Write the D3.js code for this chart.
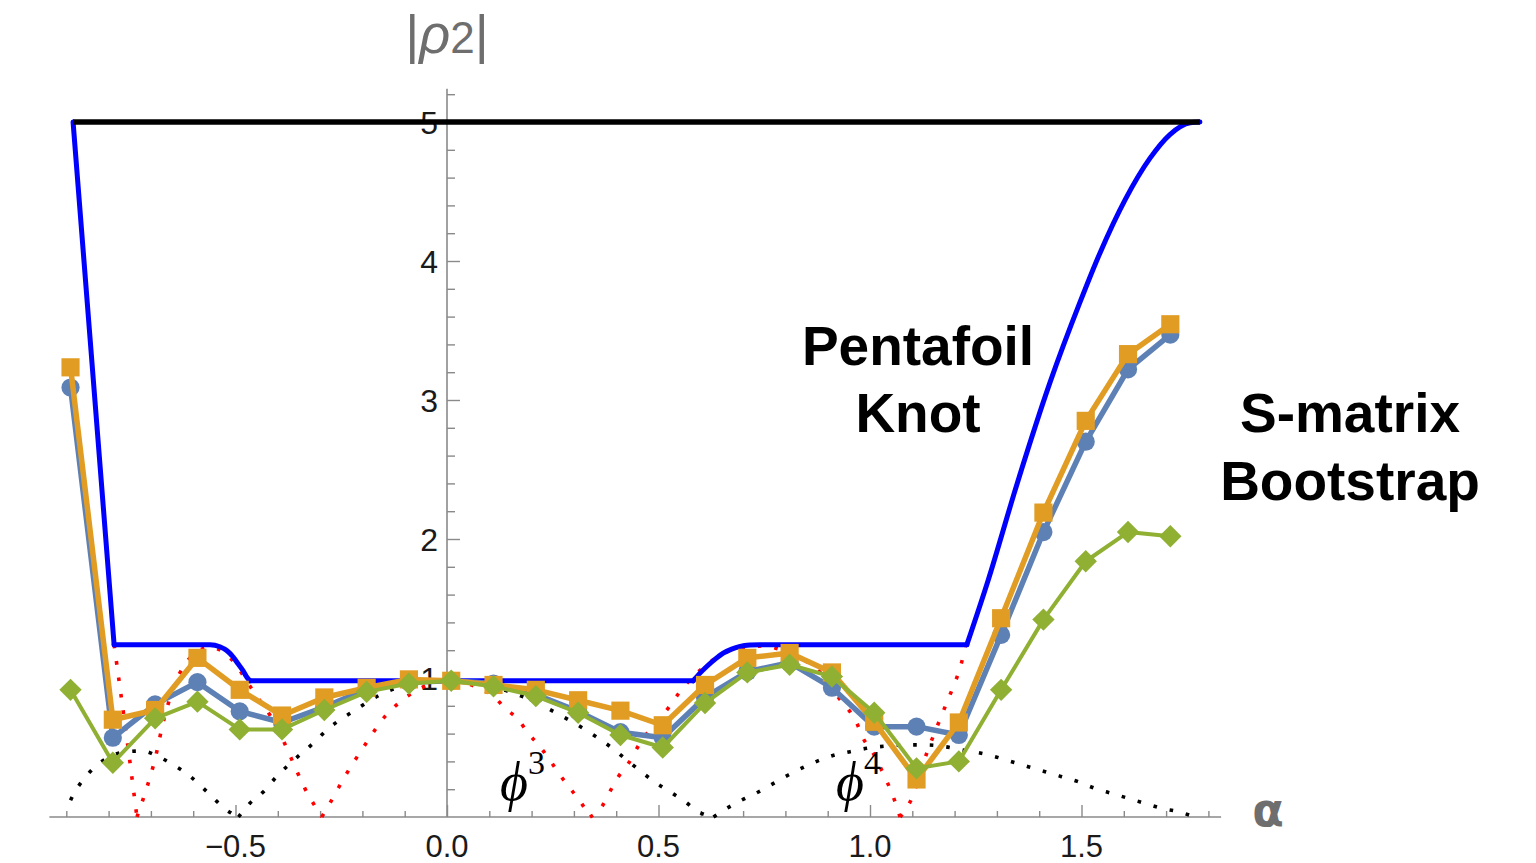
<!DOCTYPE html>
<html>
<head>
<meta charset="utf-8">
<script src="https://cdn.jsdelivr.net/npm/d3@7"></script>
<style>
  html, body { margin: 0; padding: 0; background: #ffffff; }
  svg { display: block; }
</style>
</head>
<body>
<svg id="chart" width="1536" height="863"></svg>
<script>
// α grid of the three bootstrap series
const alphaPoints = [-0.89, -0.79, -0.69, -0.59, -0.49, -0.39, -0.29, -0.19, -0.09, 0.01,
                     0.11, 0.21, 0.31, 0.41, 0.51, 0.61, 0.71, 0.81, 0.91, 1.01,
                     1.11, 1.21, 1.31, 1.41, 1.51, 1.61, 1.71];
const circleSeries  = [3.09, 0.57, 0.81, 0.97, 0.76, 0.68, 0.79, 0.92, 0.97, 0.98,
                       0.96, 0.88, 0.76, 0.61, 0.57, 0.86, 1.045, 1.11, 0.93, 0.65,
                       0.65, 0.59, 1.31, 2.05, 2.70, 3.22, 3.47];
const squareSeries  = [3.235, 0.70, 0.77, 1.145, 0.915, 0.73, 0.86, 0.93, 0.99, 0.98,
                       0.95, 0.915, 0.84, 0.765, 0.66, 0.95, 1.145, 1.18, 1.04, 0.685,
                       0.27, 0.68, 1.43, 2.19, 2.85, 3.33, 3.545];
const diamondSeries = [0.915, 0.39, 0.71, 0.83, 0.63, 0.63, 0.77, 0.90, 0.96, 0.98,
                       0.94, 0.87, 0.75, 0.59, 0.50, 0.82, 1.04, 1.095, 1.01, 0.75,
                       0.35, 0.40, 0.915, 1.42, 1.84, 2.05, 2.02];

// pentafoil knot bound (blue); sharp corners listed separately
const knotAlpha = [-0.884, -0.787, -0.560, -0.537, -0.520, -0.506, -0.494, -0.482, -0.473, -0.466,
                   0.582, 0.598, 0.614, 0.634, 0.653, 0.673, 0.693, 0.716, 0.740,
                   1.229, 1.279, 1.348, 1.426, 1.496, 1.544, 1.603, 1.662, 1.709, 1.757, 1.78];
const knotValue = [5.0, 1.24, 1.24, 1.225, 1.196, 1.153, 1.102, 1.052, 1.005, 0.98,
                   0.98, 1.035, 1.083, 1.136, 1.179, 1.208, 1.227, 1.237, 1.24,
                   1.24, 1.70, 2.40, 3.13, 3.70, 4.06, 4.44, 4.74, 4.91, 4.995, 5.0];
const knotCorners = [-0.787, -0.466, 0.582, 1.229];

// unitarity cap
const capAlpha = [-0.884, 1.78];
const capValue = [5, 5];

// dotted reference curves (zeros split the humps)
const blackDotAlpha = [-0.89, -0.884, -0.86, -0.832, -0.797, -0.757, -0.72, -0.682, -0.647, -0.61, -0.58, -0.552, -0.521, -0.493,
                       -0.466, -0.434, -0.403, -0.379, -0.348, -0.316, -0.284, -0.253, -0.222, -0.186, -0.158, -0.119, -0.087, -0.04, 0.0,
                       0.066, 0.149, 0.188, 0.259, 0.326, 0.393, 0.429, 0.464, 0.496, 0.527, 0.563, 0.594, 0.63,
                       0.661, 0.697, 0.736, 0.772, 0.807, 0.846, 0.882, 0.917, 0.953, 0.992, 1.039, 1.079, 1.134, 1.177, 1.217,
                       1.256, 1.296, 1.335, 1.374, 1.414, 1.453, 1.492, 1.532, 1.571, 1.611, 1.65, 1.69, 1.729, 1.768];
const blackDotValue = [0.12, 0.158, 0.267, 0.362, 0.434, 0.47, 0.475, 0.434, 0.375, 0.30, 0.218, 0.135, 0.05, 0,
                       0.099, 0.182, 0.29, 0.362, 0.447, 0.531, 0.627, 0.699, 0.759, 0.831, 0.879, 0.927, 0.951, 0.975, 0.98,
                       0.96, 0.90, 0.855, 0.747, 0.63, 0.49, 0.40, 0.314, 0.242, 0.182, 0.11, 0.038, 0,
                       0.062, 0.122, 0.18, 0.242, 0.302, 0.362, 0.41, 0.447, 0.47, 0.494, 0.511, 0.519, 0.519, 0.506, 0.482,
                       0.463, 0.434, 0.398, 0.362, 0.326, 0.29, 0.254, 0.206, 0.17, 0.134, 0.098, 0.062, 0.038, 0];

const redDotAlpha = [-0.787, -0.778, -0.769, -0.76, -0.751, -0.742, -0.733,
                     -0.714, -0.69, -0.671, -0.643, -0.619, -0.59, -0.56, -0.53, -0.50, -0.47, -0.45, -0.418, -0.387, -0.355, -0.336, -0.316, -0.296,
                     -0.277, -0.237, -0.194, -0.147, -0.115, -0.083, 0.0,
                     0.106, 0.137, 0.169, 0.192, 0.22, 0.243, 0.267, 0.291, 0.318, 0.338,
                     0.366, 0.385, 0.405, 0.429, 0.456, 0.492, 0.523, 0.551, 0.60, 0.65, 0.70, 0.75, 0.80, 0.866, 0.898, 0.921, 0.969, 0.984, 1.008, 1.031, 1.055, 1.071,
                     1.095, 1.134, 1.165, 1.181, 1.197, 1.209, 1.221, 1.226];
const redDotValue = [1.24, 1.04, 0.84, 0.64, 0.43, 0.215, 0,
                     0.17, 0.42, 0.68, 0.96, 1.10, 1.19, 1.22, 1.19, 1.10, 0.96, 0.87, 0.73, 0.55, 0.33, 0.206, 0.098, 0,
                     0.098, 0.314, 0.518, 0.722, 0.818, 0.89, 0.98,
                     0.879, 0.783, 0.699, 0.602, 0.506, 0.41, 0.302, 0.206, 0.098, 0,
                     0.074, 0.182, 0.29, 0.386, 0.53, 0.674, 0.783, 0.903, 1.06, 1.17, 1.22, 1.23, 1.19, 1.083, 0.987, 0.879, 0.674, 0.566, 0.458, 0.314, 0.146, 0,
                     0.11, 0.458, 0.699, 0.819, 0.939, 1.035, 1.167, 1.24];

// axis ticks
const xMajorTicks = [-0.5, 0.0, 0.5, 1.0, 1.5];
const xTickLabels = ["\u22120.5", "0.0", "0.5", "1.0", "1.5"];
const xMinorTicks = [-0.9, -0.8, -0.7, -0.6, -0.4, -0.3, -0.2, -0.1, 0.1, 0.2, 0.3, 0.4,
                     0.6, 0.7, 0.8, 0.9, 1.1, 1.2, 1.3, 1.4, 1.6, 1.7, 1.8];
const yMajorTicks = [1, 2, 3, 4, 5];
const yTickLabels = ["1", "2", "3", "4", "5"];
const yMinorTicks = [0.2, 0.4, 0.6, 0.8, 1.2, 1.4, 1.6, 1.8, 2.2, 2.4, 2.6, 2.8,
                     3.2, 3.4, 3.6, 3.8, 4.2, 4.4, 4.6, 4.8, 5.2];

const svg = d3.select("#chart");
const x = d3.scaleLinear().domain([0, 1.5]).range([447, 1081.5]);
const y = d3.scaleLinear().domain([0, 5]).range([817, 122]);

const axisColor = "#8a8a8a";
const sans = "'Liberation Sans', Arial, sans-serif";

// ---- axes ----
const gx = svg.append("g").attr("transform", `translate(0,${y(0)})`);
gx.append("line").attr("x1", x(-0.94)).attr("x2", x(1.83)).attr("y1", 0).attr("y2", 0)
  .attr("stroke", axisColor).attr("stroke-width", 1.6);
gx.append("g").call(d3.axisBottom(x).tickValues(xMajorTicks).tickSizeInner(-12).tickSizeOuter(0).tickFormat(""))
  .call(g => g.select(".domain").remove())
  .call(g => g.selectAll("line").attr("stroke", axisColor).attr("stroke-width", 1.4));
gx.append("g").call(d3.axisBottom(x).tickValues(xMinorTicks).tickSizeInner(-6).tickSizeOuter(0).tickFormat(""))
  .call(g => g.select(".domain").remove())
  .call(g => g.selectAll("line").attr("stroke", axisColor).attr("stroke-width", 1.4));

const gy = svg.append("g").attr("transform", `translate(${x(0)},0)`);
gy.append("line").attr("x1", 0).attr("x2", 0).attr("y1", y(5.24)).attr("y2", y(0))
  .attr("stroke", axisColor).attr("stroke-width", 1.6);
gy.append("g").call(d3.axisLeft(y).tickValues(yMajorTicks).tickSizeInner(-13).tickSizeOuter(0).tickFormat(""))
  .call(g => g.select(".domain").remove())
  .call(g => g.selectAll("line").attr("stroke", axisColor).attr("stroke-width", 1.4));
gy.append("g").call(d3.axisLeft(y).tickValues(yMinorTicks).tickSizeInner(-8).tickSizeOuter(0).tickFormat(""))
  .call(g => g.select(".domain").remove())
  .call(g => g.selectAll("line").attr("stroke", axisColor).attr("stroke-width", 1.4));

// tick labels
svg.append("g").selectAll("text").data(xMajorTicks).join("text")
  .attr("x", d => x(d)).attr("y", 857)
  .attr("text-anchor", "middle")
  .attr("font-family", sans)
  .attr("font-size", 31).attr("fill", "#1a1a1a")
  .text((d, i) => xTickLabels[i]);
svg.append("g").selectAll("text").data(yMajorTicks).join("text")
  .attr("x", x(0) - 9).attr("y", d => y(d)).attr("dy", "0.36em")
  .attr("text-anchor", "end")
  .attr("font-family", sans)
  .attr("font-size", 32).attr("fill", "#1a1a1a")
  .text((d, i) => yTickLabels[i]);

// ---- dotted reference curves, one path per hump ----
function humps(alphas, values) {
  const out = [];
  let cur = [];
  alphas.forEach((a, i) => {
    cur.push([a, values[i]]);
    if (values[i] === 0 && cur.length > 1) { out.push(cur); cur = [[a, 0]]; }
  });
  if (cur.length > 1) out.push(cur);
  return out;
}
const smooth = d3.line().x(d => x(d[0])).y(d => y(d[1])).curve(d3.curveMonotoneX);
const straight = d3.line().x(d => x(d[0])).y(d => y(d[1]));

svg.append("g").selectAll("path").data(humps(blackDotAlpha, blackDotValue)).join("path")
  .attr("d", smooth).attr("fill", "none").attr("stroke", "#000")
  .attr("stroke-width", 3.6).attr("stroke-dasharray", "3.6 13");
svg.append("g").selectAll("path").data(humps(redDotAlpha, redDotValue)).join("path")
  .attr("d", smooth).attr("fill", "none").attr("stroke", "#ff0000")
  .attr("stroke-width", 3.6).attr("stroke-dasharray", "3.6 13");

// ---- knot bound: smooth between sharp corners ----
const knotPts = knotAlpha.map((a, i) => [a, knotValue[i]]);
const knotPieces = [];
let piece = [];
knotPts.forEach(p => {
  piece.push(p);
  if (knotCorners.includes(p[0]) && piece.length > 1) { knotPieces.push(piece); piece = [p]; }
});
if (piece.length > 1) knotPieces.push(piece);
svg.append("g").selectAll("path").data(knotPieces).join("path")
  .attr("d", d => (d.length > 2 ? smooth : straight)(d))
  .attr("fill", "none").attr("stroke", "#0000ff")
  .attr("stroke-width", 5).attr("stroke-linecap", "round").attr("stroke-linejoin", "round");

svg.append("path").datum(capAlpha.map((a, i) => [a, capValue[i]]))
  .attr("d", straight).attr("fill", "none").attr("stroke", "#000")
  .attr("stroke-width", 5.5);

// ---- bootstrap series ----
const seriesDefs = [
  { values: circleSeries,  color: "#5e81b5", width: 5.5, shape: d3.symbolCircle, size: 260, rot: 0 },
  { values: squareSeries,  color: "#e19c24", width: 5.5, shape: d3.symbolSquare, size: 330, rot: 0 },
  { values: diamondSeries, color: "#8fb032", width: 4,   shape: d3.symbolSquare, size: 250, rot: 45 }
];
seriesDefs.forEach(s => {
  const pts = alphaPoints.map((a, i) => [a, s.values[i]]);
  const g = svg.append("g");
  g.append("path").datum(pts).attr("d", straight)
    .attr("fill", "none").attr("stroke", s.color).attr("stroke-width", s.width)
    .attr("stroke-linejoin", "round");
  g.selectAll("path.mk").data(pts).join("path").attr("class", "mk")
    .attr("transform", d => `translate(${x(d[0])},${y(d[1])}) rotate(${s.rot})`)
    .attr("d", d3.symbol().type(s.shape).size(s.size))
    .attr("fill", s.color);
});

// ---- annotations ----
const lab = svg.append("g");
lab.append("text").attr("x", 447).attr("y", 53).attr("text-anchor", "middle")
  .attr("font-family", sans).attr("font-size", 54).attr("fill", "#6e6e6e")
  .html('|<tspan font-style="italic">\u03c1</tspan><tspan font-size="44">2</tspan>|');
lab.append("text").attr("x", 1268).attr("y", 826).attr("text-anchor", "middle")
  .attr("font-family", "'DejaVu Sans', sans-serif").attr("font-weight", "bold").attr("font-size", 46).attr("fill", "#6e6e6e")
  .text("\u03b1");

[["Pentafoil", 918, 365], ["Knot", 918, 432], ["S-matrix", 1350, 432], ["Bootstrap", 1350, 500]].forEach(([t, cx, by]) => {
  lab.append("text").attr("x", cx).attr("y", by).attr("text-anchor", "middle")
    .attr("font-family", sans).attr("font-weight", "bold").attr("font-size", 55).attr("fill", "#000")
    .text(t);
});

[["\u03d5", "3", 500, 800], ["\u03d5", "4", 836, 800]].forEach(([g, p, lx, by]) => {
  const t = lab.append("text").attr("x", lx).attr("y", by)
    .attr("font-family", "'Liberation Serif', 'Times New Roman', serif").attr("fill", "#000");
  t.append("tspan").attr("font-style", "italic").attr("font-size", 54).text(g);
  t.append("tspan").attr("font-size", 34).attr("dy", -26).text(p);
});
</script>
</body>
</html>
